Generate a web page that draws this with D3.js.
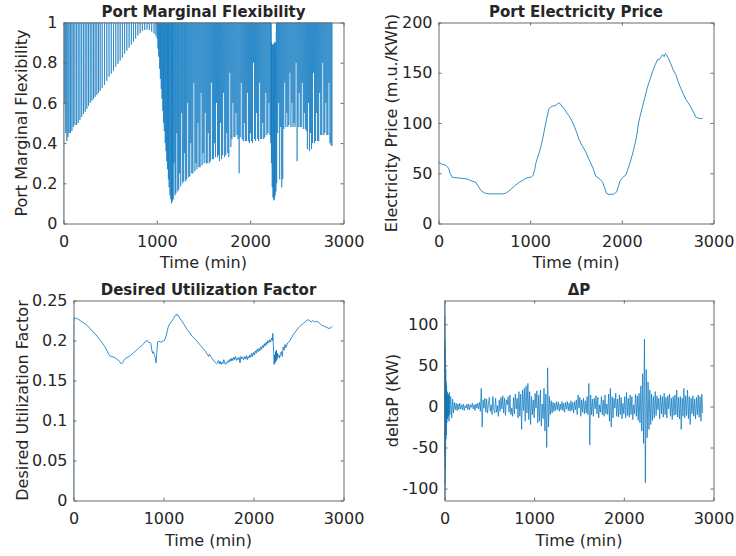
<!DOCTYPE html>
<html><head><meta charset="utf-8">
<script src="https://cdn.jsdelivr.net/npm/d3@7"></script>
<style>
body{margin:0;background:#fff}
svg{display:block}
text{font-family:"DejaVu Sans",sans-serif;fill:#262626}
</style>
</head><body>
<svg id="c" width="736" height="556"></svg>
<script>
// ---------------- DATA ----------------
const timeTicks = [0, 1000, 2000, 3000];
const timeTickLabels = ["0", "1000", "2000", "3000"];

// Panel 1: Port Marginal Flexibility (signal at saturation 1 with short dips)
const FLEX_MAX = 1;
const flexStartT = [0, 0];
const flexStartV = [0, 1];
const pulseT = [14,24,36,48,60,75,90,105,122,140,158,176,195,214,232,250,268,286,304,322,339,357,375,393,415,440,464,488,512,536,560,584,607,631,655,679,703,727,750,773,797,821,845,870,895,920,945,970,990,
1003,1012,1020,1030,1038,1047,1055,1064,1072,1080,1090,1098,1106,1115,1124,1132,1141,1150,1158,1167,1176,1185,1195,1204,1214,1224,1234,1245,1256,1266,1277,1288,1298,1309,1320,1331,1342,1353,1364,1375,1386,1397,1408,1419,1430,1441,1452,1463,1474,1485,1496,1507,1518,1529,1540,1551,1562,1573,1584,1595,1606,1617,1628,1639,1650,1661,1672,1683,1694,1705,1716,1727,1738,1749,1760,1771,1782,1793,1804,1815,1826,1837,1848,1859,1870,1882,1893,1904,1915,1926,1937,1948,1959,1970,1981,1992,2003,2014,2025,2036,2047,2058,2069,2080,2091,2102,2113,2124,2135,2146,2157,2168,2179,2190,2201,2212,2222,
2284,2295,2305,2316,2327,2338,2349,2360,2371,2382,2393,2404,2415,2426,2437,2448,2459,2470,2481,2492,2503,2514,2525,2536,2547,2558,2569,2580,2591,2602,2613,2624,2635,2646,2657,2668,2679,2690,2701,2712,2723,2734,2745,2756,2767,2778,2789,2800,2811,2822,2833,2844,2855,2866,2876];
const pulseLow = [0.60,0.45,0.41,0.43,0.45,0.45,0.46,0.48,0.49,0.49,0.50,0.515,0.53,0.545,0.556,0.57,0.585,0.60,0.61,0.62,0.63,0.64,0.65,0.66,0.675,0.69,0.71,0.73,0.745,0.76,0.78,0.795,0.81,0.825,0.845,0.86,0.875,0.89,0.905,0.92,0.935,0.947,0.958,0.963,0.965,0.963,0.955,0.945,0.935,
0.92,0.87,0.83,0.77,0.72,0.67,0.62,0.56,0.50,0.46,0.40,0.36,0.31,0.27,0.22,0.18,0.14,0.12,0.10,0.11,0.12,0.30,0.14,0.15,0.45,0.16,0.17,0.25,0.185,0.55,0.20,0.21,0.35,0.21,0.22,0.60,0.23,0.235,0.40,0.25,0.25,0.70,0.26,0.30,0.27,0.50,0.28,0.28,0.65,0.29,0.35,0.30,0.55,0.30,0.30,0.45,0.30,0.31,0.70,0.32,0.32,0.40,0.33,0.60,0.33,0.34,0.31,0.50,0.32,0.34,0.65,0.33,0.34,0.45,0.35,0.33,0.75,0.38,0.42,0.60,0.43,0.43,0.55,0.44,0.42,0.25,0.43,0.70,0.42,0.41,0.50,0.41,0.41,0.65,0.41,0.40,0.45,0.41,0.40,0.80,0.42,0.41,0.55,0.42,0.41,0.70,0.42,0.42,0.50,0.42,0.43,0.65,0.44,0.45,0.60,0.44,0.40,
0.20,0.45,0.60,0.22,0.48,0.18,0.22,0.47,0.70,0.48,0.55,0.48,0.49,0.75,0.48,0.60,0.48,0.50,0.48,0.80,0.31,0.48,0.65,0.48,0.48,0.70,0.47,0.55,0.47,0.46,0.37,0.60,0.36,0.45,0.37,0.40,0.75,0.40,0.41,0.55,0.41,0.41,0.65,0.44,0.44,0.80,0.44,0.45,0.60,0.44,0.44,0.70,0.40,0.39,0.385];
const notchT = [2228, 2236, 2244, 2252, 2260, 2268, 2276];
const notchLow = [0.30, 0.18, 0.13, 0.115, 0.12, 0.14, 0.16];
const notchHigh = [0.90, 0.88, 0.89, 0.88, 0.90, 0.89, 0.90];

// Panel 2: Port Electricity Price
const priceT = [0,40,80,110,125,150,200,250,300,335,370,407,440,462,490,516,560,600,650,698,730,771,800,840,880,920,953,990,1010,1033,1050,1062,1090,1116,1135,1153,1170,1189,1205,1225,1245,1262,1285,1309,1330,1353,1380,1400,1425,1450,1480,1510,1535,1570,1607,1635,1662,1690,1716,1750,1789,1810,1833,1860,1898,1920,1942,1960,1978,2010,2043,2070,2098,2125,2153,2170,2182,2200,2225,2250,2280,2310,2334,2360,2389,2407,2430,2444,2460,2475,2487,2510,2534,2560,2589,2615,2643,2670,2698,2725,2752,2780,2807,2830,2850,2880];
const priceV = [61,59,58,55,50,46,45.5,45,44.5,43.5,42,41,36,33,31,30,29.5,29.5,29.5,29.5,30,32.5,35,38,41,43,45,46,46,48,54,60,68,76,84,92,100,108,114,116,117,117,118,120,119,116,113,110,107,103,97,90,83,77,71,65,60,54,47,45,41.5,36,30,29,29,29.5,31.5,36,42,46,48,55,63,72,83,92,100,107,116,125,136,144,151,157,163,163,166,168,166,169,168,164,159,153,148,141,134.5,129,123.5,120,116,111,106,105,104.5,104.5];

// Panel 3: Desired Utilization Factor
const utilT = [0,2,10,20,30,60,100,150,200,250,300,350,400,420,450,480,510,530,545,560,580,600,630,660,690,720,750,780,800,820,840,850,860,870,880,890,900,910,918,925,935,950,970,990,1010,1030,1050,1070,1090,1110,1130,1145,1150,1160,1180,1200,1230,1260,1290,1320,1350,1380,1410,1440,1470,1490,1500,1510,1530,1550,1570,1590,
1600,1610,1620,1630,1640,1650,1660,1670,1680,1690,1700,1710,1720,1730,1740,1750,1760,1770,1780,1790,1800,1810,1820,1830,1840,1850,1860,1870,1880,1890,1900,1910,1920,1930,1940,1950,1960,1970,1980,1990,2000,2010,2020,2030,2040,2050,2060,2070,2080,2090,2100,2110,2120,2130,2140,2150,2160,2170,2180,2190,2200,2210,2215,2220,2225,2230,2235,2240,2245,2250,2255,2260,2265,2270,2280,2290,2300,2310,2320,2330,2340,2350,2360,2380,2400,2420,2440,2460,2480,2500,2520,2540,2560,2580,2600,2620,2640,2660,2680,2700,2720,2740,2760,2780,2800,2820,2840,2860,2875];
const utilV = [0,0.226,0.229,0.227,0.228,0.226,0.223,0.219,0.213,0.207,0.200,0.192,0.181,0.180,0.179,0.177,0.174,0.171,0.172,0.175,0.178,0.179,0.181,0.184,0.187,0.190,0.193,0.196,0.199,0.200,0.197,0.198,0.196,0.188,0.184,0.186,0.181,0.178,0.172,0.185,0.198,0.199,0.198,0.199,0.200,0.206,0.216,0.221,0.224,0.227,0.231,0.233,0.231,0.232,0.228,0.225,0.220,0.214,0.210,0.205,0.202,0.198,0.194,0.190,0.186,0.182,0.180,0.183,0.179,0.176,0.173,0.171,
0.172,0.175,0.171,0.174,0.170,0.173,0.171,0.176,0.172,0.170,0.173,0.172,0.175,0.173,0.177,0.174,0.178,0.175,0.179,0.176,0.180,0.175,0.178,0.176,0.179,0.172,0.180,0.177,0.179,0.176,0.180,0.177,0.181,0.176,0.180,0.178,0.182,0.179,0.184,0.180,0.185,0.182,0.187,0.184,0.189,0.186,0.190,0.187,0.192,0.189,0.194,0.191,0.196,0.193,0.198,0.195,0.200,0.197,0.201,0.198,0.203,0.200,0.209,0.196,0.184,0.170,0.182,0.172,0.186,0.174,0.188,0.176,0.184,0.179,0.182,0.178,0.184,0.186,0.180,0.192,0.188,0.195,0.191,0.197,0.199,0.203,0.207,0.210,0.213,0.216,0.218,0.220,0.222,0.224,0.226,0.225,0.223,0.225,0.223,0.224,0.223,0.221,0.219,0.218,0.217,0.216,0.215,0.216,0.218];

// Panel 4: deltaP (early fine samples, then one sample every 10 min from 70 min)
const dpEarlyT = [0,1,2,3,4,5,6,7,8,10,12,14,16,18,20,23,26,30,34,38,42,46,50,55,60,65];
const dpEarlyV = [0,129,-60,110,-114,80,-95,70,-75,55,-60,45,-40,30,-35,25,-20,18,-15,16,-12,14,-18,17,-10,9];
const dpStart = 70, dpStep = 10;
const dpV = [12,-14,9,-8,5,-4,4,-5,3,-4,
4,-3,2,-4,3,-5,1,-2,3,-4,
3,-4,2,-1,4,-3,2,-5,3,-2,
4,-3,5,-6,22,-25,8,-2,10,-7,
9,-8,3,11,-6,2,-10,12,-4,-8,
10,-7,1,-12,8,-6,11,-3,13,-8,
10,-11,8,2,12,-7,14,-10,-2,-12,
11,-9,15,-3,10,-14,18,-12,15,-28,
20,-5,22,-18,25,-8,28,-16,18,-22,
12,-10,8,-14,16,-2,19,-20,14,-18,
20,-24,3,-15,22,-30,15,-50,47,-25,
12,-10,7,-8,5,-6,4,-5,6,-4,
5,-6,3,-4,6,-5,4,-7,5,-3,
6,-5,4,-6,7,-5,5,-8,6,-4,
8,-10,14,-2,11,-12,8,-7,10,-9,
7,-8,12,-10,28,-47,14,-10,9,-12,
10,-3,13,-9,11,-14,2,-7,12,-10,
8,-12,14,-9,3,-10,15,-18,22,-25,
12,-14,10,-2,16,-12,9,-13,14,-10,
11,-15,4,-9,12,-14,17,-11,10,-13,
14,-10,12,-16,2,-9,15,-12,13,-17,
16,-20,25,-30,40,-45,82,-93,45,-38,
30,-28,20,-22,15,-17,12,-14,18,-11,
13,-4,10,-15,14,-9,12,-13,16,-10,
11,-14,13,-3,15,-12,10,-16,12,-11,
14,-10,20,-13,11,-15,12,-28,10,-12,
22,-14,13,-11,20,-15,12,-22,10,-9,
13,-12,9,-15,11,-10,14,-13,12,-18,
15,-8];

const flexTicks = [0, 0.2, 0.4, 0.6, 0.8, 1];
const flexTickLabels = ["0", "0.2", "0.4", "0.6", "0.8", "1"];
const priceTicks = [0, 50, 100, 150, 200];
const priceTickLabels = ["0", "50", "100", "150", "200"];
const utilTicks = [0, 0.05, 0.1, 0.15, 0.2, 0.25];
const utilTickLabels = ["0", "0.05", "0.1", "0.15", "0.2", "0.25"];
const dpTicks = [-100, -50, 0, 50, 100];
const dpTickLabels = ["-100", "-50", "0", "50", "100"];

// ---------------- BUILD SERIES ----------------
const pulses = pulseT.map((t, i) => ({t, lo: pulseLow[i], hi: FLEX_MAX}))
  .concat(notchT.map((t, i) => ({t, lo: notchLow[i], hi: notchHigh[i]})))
  .sort((a, b) => a.t - b.t);
const flexPts = flexStartT.map((t, i) => [t, flexStartV[i]]);
pulses.forEach(p => { flexPts.push([p.t - 1, p.hi], [p.t, p.lo], [p.t + 1, p.hi]); });
const pricePts = priceT.map((t, i) => [t, priceV[i]]);
const utilPts = utilT.map((t, i) => [t, utilV[i]]);
const dpPts = dpEarlyT.map((t, i) => [t, dpEarlyV[i]]).concat(dpV.map((v, i) => [dpStart + i * dpStep, v]));

// ---------------- DRAW ----------------
const svg = d3.select("#c");
const AX = "#6a6a6a";
const LINE = "#0072BD";

function drawPanel(o) {
  const x = d3.scaleLinear().domain([0, 3000]).range([o.l, o.r]);
  const y = d3.scaleLinear().domain(o.yd).range([o.b, o.t]);
  svg.append("clipPath").attr("id", "clip" + o.id)
    .append("rect").attr("x", o.l).attr("y", o.t).attr("width", o.r - o.l).attr("height", o.b - o.t);
  svg.append("path").datum(o.data)
    .attr("clip-path", `url(#clip${o.id})`)
    .attr("fill", "none").attr("stroke", LINE).attr("stroke-width", o.sw)
    .attr("stroke-linejoin", "round")
    .attr("d", d3.line().x(d => x(d[0])).y(d => y(d[1])));

  const mk = (g) => {
    g.attr("font-size", 16).attr("font-family", '"DejaVu Sans", sans-serif').attr("color", "#262626");
    g.selectAll("path.domain").attr("stroke", AX).attr("stroke-width", 1);
    g.selectAll(".tick line").attr("stroke", AX).attr("stroke-width", 1);
  };
  svg.append("g").attr("transform", `translate(0,${o.b})`)
    .call(d3.axisBottom(x).tickValues(timeTicks).tickFormat((d, i) => timeTickLabels[i]).tickSizeInner(-3).tickSizeOuter(0).tickPadding(12)).call(mk);
  svg.append("g").attr("transform", `translate(0,${o.t})`)
    .call(d3.axisTop(x).tickValues(timeTicks).tickFormat("").tickSizeInner(-3).tickSizeOuter(0)).call(mk);
  svg.append("g").attr("transform", `translate(${o.l},0)`)
    .call(d3.axisLeft(y).tickValues(o.yt).tickFormat((d, i) => o.ytl[i]).tickSizeInner(-3).tickSizeOuter(0).tickPadding(6)).call(mk);
  svg.append("g").attr("transform", `translate(${o.r},0)`)
    .call(d3.axisRight(y).tickValues(o.yt).tickFormat("").tickSizeInner(-3).tickSizeOuter(0)).call(mk);

  const cx = (o.l + o.r) / 2, cy = (o.t + o.b) / 2;
  svg.append("text").attr("x", cx).attr("y", o.titleY).attr("text-anchor", "middle")
    .attr("font-size", 15).attr("font-weight", "bold").text(o.title);
  svg.append("text").attr("x", cx).attr("y", o.xlabY).attr("text-anchor", "middle")
    .attr("font-size", 16).text("Time (min)");
  svg.append("text").attr("transform", `translate(${o.ylabX},${cy}) rotate(-90)`).attr("text-anchor", "middle")
    .attr("font-size", 16).text(o.ylab);
}

drawPanel({id: 1, l: 63.5, r: 343.5, t: 22.5, b: 223.5, yd: [0, 1], yt: flexTicks, ytl: flexTickLabels, sw: 0.6,
  data: flexPts, title: "Port Marginal Flexibility", ylab: "Port Marginal Flexibility", titleY: 16.7, xlabY: 268.3, ylabX: 26.5});
drawPanel({id: 2, l: 438.5, r: 713.5, t: 22.5, b: 223.5, yd: [0, 200], yt: priceTicks, ytl: priceTickLabels, sw: 0.8,
  data: pricePts, title: "Port Electricity Price", ylab: "Electricity Price (m.u./KWh)", titleY: 16.7, xlabY: 268.3, ylabX: 397});
drawPanel({id: 3, l: 73.5, r: 343.5, t: 300.5, b: 500.5, yd: [0, 0.25], yt: utilTicks, ytl: utilTickLabels, sw: 0.8,
  data: utilPts, title: "Desired Utilization Factor", ylab: "Desired Utilization Factor", titleY: 294.7, xlabY: 546.3, ylabX: 27.5});
drawPanel({id: 4, l: 444.5, r: 713.5, t: 300.5, b: 500.5, yd: [-114.5, 129], yt: dpTicks, ytl: dpTickLabels, sw: 0.7,
  data: dpPts, title: "ΔP", ylab: "deltaP (KW)", titleY: 294.7, xlabY: 546.3, ylabX: 398});
</script>
</body></html>
